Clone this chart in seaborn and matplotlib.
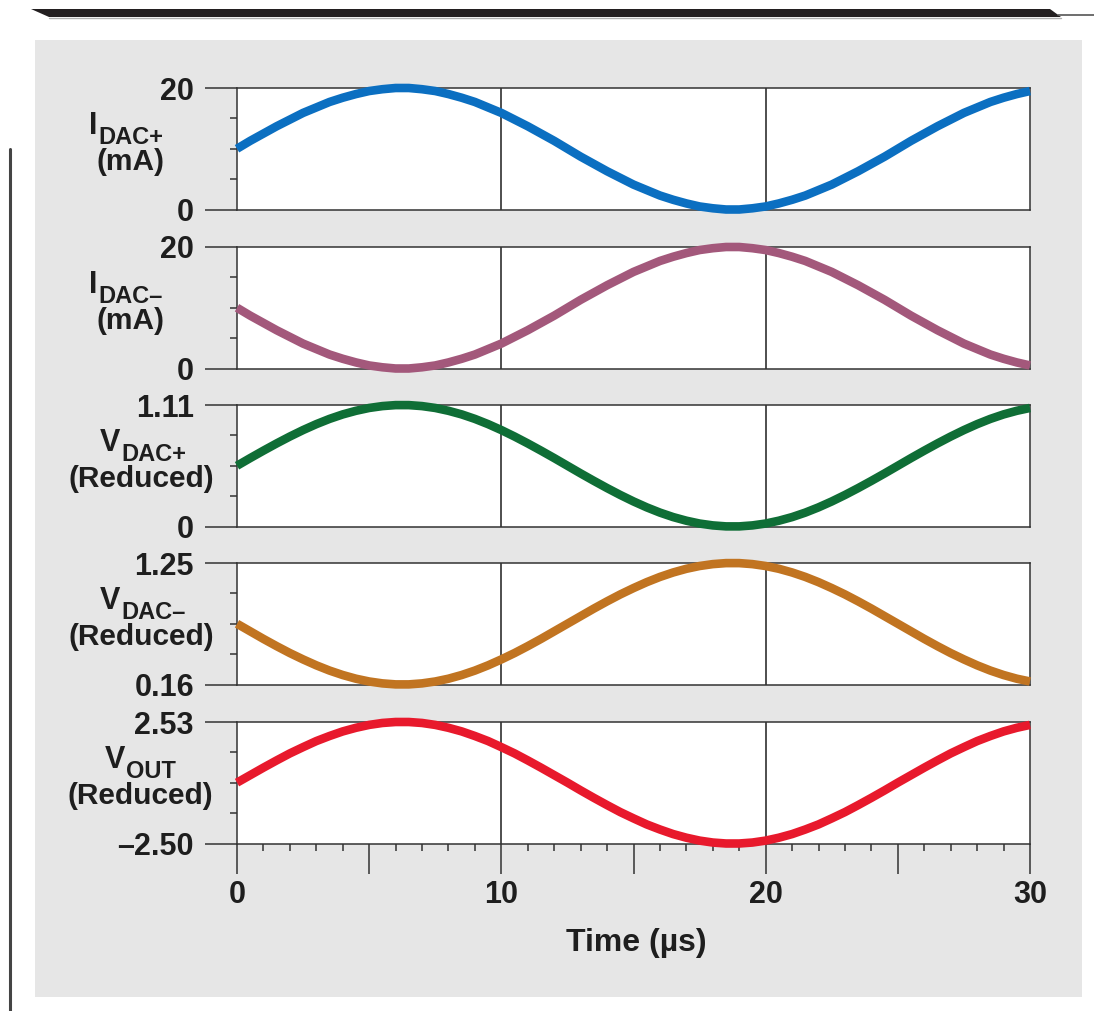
import matplotlib
matplotlib.use("Agg")
import matplotlib.pyplot as plt
import seaborn as sns
from matplotlib.patches import Rectangle, Polygon
from matplotlib.lines import Line2D

# time axis (µs), read every 0.5 µs
time_us = [0, 0.5, 1, 1.5, 2, 2.5, 3, 3.5, 4, 4.5, 5, 5.5, 6, 6.5, 7, 7.5, 8, 8.5, 9, 9.5,
           10, 10.5, 11, 11.5, 12, 12.5, 13, 13.5, 14, 14.5, 15, 15.5, 16, 16.5, 17, 17.5,
           18, 18.5, 19, 19.5, 20, 20.5, 21, 21.5, 22, 22.5, 23, 23.5, 24, 24.5, 25, 25.5,
           26, 26.5, 27, 27.5, 28, 28.5, 29, 29.5, 30]

idac_p = [10.0, 11.3, 12.5, 13.7, 14.8, 15.9, 16.8, 17.7, 18.4, 19.0, 19.5, 19.8, 20.0,
          20.0, 19.8, 19.5, 19.0, 18.4, 17.7, 16.8, 15.9, 14.8, 13.7, 12.5, 11.3, 10.0,
          8.7, 7.5, 6.3, 5.2, 4.1, 3.2, 2.3, 1.6, 1.0, 0.5, 0.2, 0.0, 0.0, 0.2, 0.5, 1.0,
          1.6, 2.3, 3.2, 4.1, 5.2, 6.3, 7.5, 8.7, 10.0, 11.3, 12.5, 13.7, 14.8, 15.9,
          16.8, 17.7, 18.4, 19.0, 19.5]
idac_m = [10.0, 8.7, 7.5, 6.3, 5.2, 4.1, 3.2, 2.3, 1.6, 1.0, 0.5, 0.2, 0.0,
          0.0, 0.2, 0.5, 1.0, 1.6, 2.3, 3.2, 4.1, 5.2, 6.3, 7.5, 8.7, 10.0,
          11.3, 12.5, 13.7, 14.8, 15.9, 16.8, 17.7, 18.4, 19.0, 19.5, 19.8, 20.0, 20.0,
          19.8, 19.5, 19.0, 18.4, 17.7, 16.8, 15.9, 14.8, 13.7, 12.5, 11.3, 10.0,
          8.7, 7.5, 6.3, 5.2, 4.1, 3.2, 2.3, 1.6, 1.0, 0.5]
vdac_p = [0.555, 0.625, 0.693, 0.759, 0.822, 0.881, 0.935, 0.983, 1.024, 1.057, 1.083,
          1.100, 1.109, 1.109, 1.100, 1.083, 1.057, 1.024, 0.983, 0.935, 0.881, 0.822,
          0.759, 0.693, 0.625, 0.555, 0.485, 0.417, 0.351, 0.288, 0.229, 0.175, 0.127,
          0.086, 0.053, 0.027, 0.010, 0.001, 0.001, 0.010, 0.027, 0.053, 0.086, 0.127,
          0.175, 0.229, 0.288, 0.351, 0.417, 0.485, 0.555, 0.625, 0.693, 0.759, 0.822,
          0.881, 0.935, 0.983, 1.024, 1.057, 1.083]
vdac_m = [0.705, 0.637, 0.569, 0.504, 0.442, 0.385, 0.332, 0.285, 0.245, 0.212, 0.187,
          0.170, 0.161, 0.161, 0.170, 0.187, 0.212, 0.245, 0.285, 0.332, 0.385, 0.442,
          0.504, 0.569, 0.637, 0.705, 0.773, 0.841, 0.906, 0.968, 1.025, 1.078, 1.125,
          1.165, 1.198, 1.223, 1.240, 1.249, 1.249, 1.240, 1.223, 1.198, 1.165, 1.125,
          1.078, 1.025, 0.968, 0.906, 0.841, 0.773, 0.705, 0.637, 0.569, 0.504, 0.442,
          0.385, 0.332, 0.285, 0.245, 0.212, 0.187]
vout = [0.02, 0.33, 0.64, 0.94, 1.23, 1.49, 1.74, 1.95, 2.14, 2.29, 2.41, 2.49, 2.53,
        2.53, 2.49, 2.41, 2.29, 2.14, 1.95, 1.74, 1.49, 1.23, 0.94, 0.64, 0.33, 0.02,
        -0.30, -0.61, -0.91, -1.20, -1.46, -1.71, -1.92, -2.11, -2.26, -2.38, -2.46,
        -2.50, -2.50, -2.46, -2.38, -2.26, -2.11, -1.92, -1.71, -1.46, -1.20, -0.91,
        -0.61, -0.30, 0.02, 0.33, 0.64, 0.94, 1.23, 1.49, 1.74, 1.95, 2.14, 2.29, 2.41]

series = [idac_p, idac_m, vdac_p, vdac_m, vout]
colors = ["#0b6fc1", "#a3587b", "#0f6e36", "#c17421", "#e8192c"]
y_limits = [(0, 20), (0, 20), (0, 1.11), (0.16, 1.25), (-2.50, 2.53)]
y_ticklabels = [["0", "20"], ["0", "20"], ["0", "1.11"], ["0.16", "1.25"], ["\u20132.50", "2.53"]]
label_main = ["I", "I", "V", "V", "V"]
label_sub = ["DAC+", "DAC\u2013", "DAC+", "DAC\u2013", "OUT"]
label_unit = ["(mA)", "(mA)", "(Reduced)", "(Reduced)", "(Reduced)"]

sns.set_theme(style="ticks")
plt.rcParams["font.family"] = ["Liberation Sans", "DejaVu Sans"]
plt.rcParams["font.weight"] = "bold"

W, H = 1094, 1011
txt = "#1e1e1e"
fig = plt.figure(figsize=(W / 100, H / 100), dpi=100, facecolor="white")

def fx(x):
    return x / W

def fy(y):
    return 1 - y / H

# gray panel and page decorations
fig.add_artist(Rectangle((fx(35), fy(997)), fx(1082) - fx(35), fy(40) - fy(997),
                         transform=fig.transFigure, facecolor="#e6e6e6",
                         edgecolor="none", zorder=-5))
fig.add_artist(Polygon([(fx(31), fy(9)), (fx(1050), fy(9)), (fx(1061), fy(17)), (fx(49), fy(17))],
                       closed=True, transform=fig.transFigure, facecolor="#231f20",
                       edgecolor="none", zorder=-4))
fig.add_artist(Line2D([fx(1058), fx(1094)], [fy(14.5), fy(14.5)], transform=fig.transFigure,
                      color="#555555", linewidth=1.2, zorder=-4))
fig.add_artist(Line2D([fx(49), fx(1061)], [fy(18), fy(18)], transform=fig.transFigure,
                      color="#b0b0b0", linewidth=1.0, zorder=-4))
fig.add_artist(Line2D([fx(10), fx(10)], [fy(149), fy(1011)], transform=fig.transFigure,
                      color="#444444", linewidth=2.2, zorder=-4))

ax_tops = [88, 247, 405, 563, 722]
ax_h = 121.5
split_x = [97, 97, 120, 120, 125]
unit_cx = [130, 130, 141, 141, 140]

for i in range(5):
    top = ax_tops[i]
    ax = fig.add_axes([fx(237), fy(top + ax_h), fx(1030) - fx(237), ax_h / H])
    ax.set_facecolor("white")
    lo, hi = y_limits[i]
    ax.axvline(10, color="#1e1e1e", linewidth=1.1, zorder=1)
    ax.axvline(20, color="#1e1e1e", linewidth=1.1, zorder=1)
    sns.lineplot(x=time_us, y=series[i], ax=ax, color=colors[i], linewidth=6.2,
                 zorder=3)
    for ln in ax.lines[-1:]:
        ln.set_clip_on(False)
        ln.set_solid_capstyle("butt")
        ln.set_solid_joinstyle("round")
    ax.set_xlim(0, 30)
    ax.set_ylim(lo, hi)
    ax.set_xlabel("")
    ax.set_ylabel("")
    ax.set_yticks([lo, hi])
    ax.set_yticklabels(y_ticklabels[i])
    q = (hi - lo) / 4
    ax.set_yticks([lo + q, lo + 2 * q, lo + 3 * q], minor=True)
    ax.tick_params(axis="y", which="major", length=23, width=1.1, direction="out",
                   pad=8, labelsize=22, colors="#333333", labelcolor=txt)
    ax.tick_params(axis="y", which="minor", length=5, width=1.1, direction="out",
                   colors="#333333")
    for sp in ax.spines.values():
        sp.set_visible(True)
        sp.set_color("#333333")
        sp.set_linewidth(1.1)
    if i < 4:
        ax.tick_params(axis="x", which="both", bottom=False, labelbottom=False)
    else:
        ax.set_xticks([0, 5, 10, 15, 20, 25, 30])
        ax.set_xticklabels(["0", "", "10", "", "20", "", "30"])
        ax.set_xticks(range(31), minor=True)
        ax.tick_params(axis="x", which="major", length=21.5, width=1.1, direction="out",
                       pad=5, labelsize=22, colors="#333333", labelcolor=txt)
        ax.tick_params(axis="x", which="minor", length=5, width=1.1, direction="out",
                       colors="#333333")
    for t in ax.get_yticklabels() + ax.get_xticklabels():
        t.set_fontweight("bold")
    fig.text(fx(split_x[i]), fy(top + 46), label_main[i], ha="right", va="baseline",
             fontsize=22, fontweight="bold", color=txt)
    fig.text(fx(split_x[i] + 1), fy(top + 56), label_sub[i], ha="left", va="baseline",
             fontsize=17, fontweight="bold", color=txt)
    fig.text(fx(unit_cx[i]), fy(top + 82), label_unit[i], ha="center", va="baseline",
             fontsize=21.5, fontweight="bold", color=txt)

fig.text(fx(636), fy(943), "Time (\u00b5s)", ha="center", va="center",
         fontsize=23, fontweight="bold", color=txt)

fig.savefig("out.png", dpi=100, facecolor="white")
